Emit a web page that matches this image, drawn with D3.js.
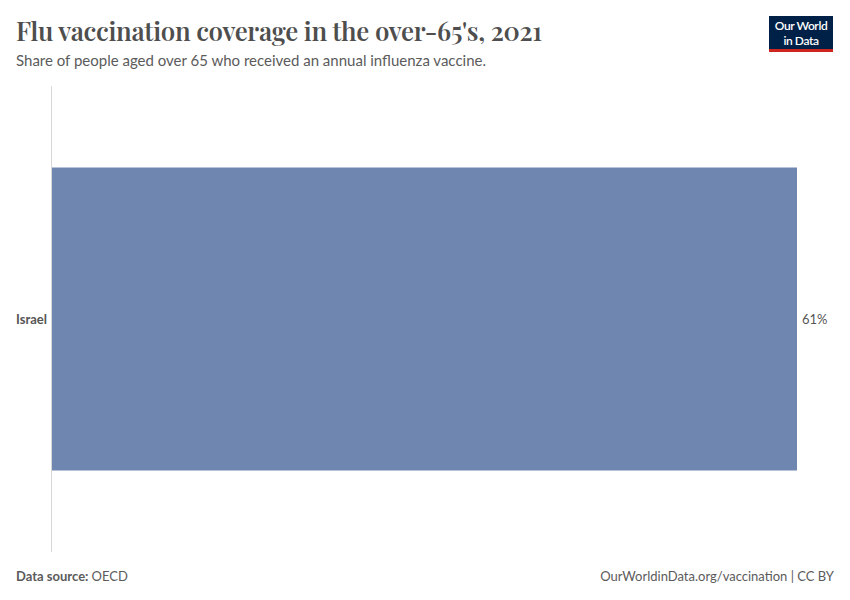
<!DOCTYPE html>
<html><head><meta charset="utf-8">
<script src="https://cdn.jsdelivr.net/npm/d3@7"></script>
<style>body{margin:0;background:#fff}</style>
</head><body>
<svg id="c" width="850" height="600"></svg>
<script>
const countries = ["Israel"];
const values = [61];
const valueLabels = ["61%"];

const svg = d3.select("#c");
svg.append("rect").attr("width",850).attr("height",600).attr("fill","#fff");

svg.append("text").attr("x",16).attr("y",41)
  .attr("font-family","'Playfair Display','Liberation Serif','DejaVu Serif',serif")
  .attr("font-size",25.8).attr("font-weight",600).attr("fill","#4e4e4e").attr("letter-spacing","-0.3")
  .text("Flu vaccination coverage in the over-65's, 2021");
svg.append("text").attr("x",16).attr("y",66)
  .attr("font-family","Lato,sans-serif").attr("font-size",15).attr("fill","#5b5b5b")
  .text("Share of people aged over 65 who received an annual influenza vaccine.");

// logo
const logo = svg.append("g");
logo.append("rect").attr("x",769).attr("y",16).attr("width",64).attr("height",36).attr("fill","#002147");
logo.append("rect").attr("x",769).attr("y",49).attr("width",64).attr("height",3).attr("fill","#ce261e");
logo.append("text").attr("x",801).attr("y",30).attr("text-anchor","middle")
  .attr("font-family","Lato,sans-serif").attr("font-size",12).attr("font-weight",600).attr("fill","#fff").attr("letter-spacing","-0.4").text("Our World");
logo.append("text").attr("x",801).attr("y",44.5).attr("text-anchor","middle")
  .attr("font-family","Lato,sans-serif").attr("font-size",12).attr("font-weight",600).attr("fill","#fff").attr("letter-spacing","-0.4").text("in Data");

const x = d3.scaleLinear().domain([0, d3.max(values)]).range([52, 797]);
const y = d3.scaleBand().domain(countries).range([86, 552]).paddingInner(0).paddingOuter(0.269);

svg.append("line").attr("x1",51.5).attr("x2",51.5).attr("y1",86).attr("y2",552)
  .attr("stroke","#d8d8d8").attr("stroke-width",1);

svg.selectAll("rect.bar").data(values).join("rect").attr("class","bar")
  .attr("x", x(0)).attr("y",(d,i)=>y(countries[i]))
  .attr("width", d=>x(d)-x(0)).attr("height", y.bandwidth())
  .attr("fill","#6f87b0");

svg.selectAll("text.cat").data(countries).join("text").attr("class","cat")
  .attr("x",47).attr("y",d=>y(d)+y.bandwidth()/2+4.5).attr("text-anchor","end")
  .attr("font-family","Lato,sans-serif").attr("font-size",13).attr("font-weight",700).attr("fill","#555")
  .text(d=>d);
svg.selectAll("text.val").data(values).join("text").attr("class","val")
  .attr("x",d=>x(d)+5).attr("y",(d,i)=>y(countries[i])+y.bandwidth()/2+4.5)
  .attr("font-family","Lato,sans-serif").attr("font-size",13).attr("fill","#555")
  .text((d,i)=>valueLabels[i]);

svg.append("text").attr("x",16).attr("y",581)
  .attr("font-family","Lato,sans-serif").attr("font-size",13).attr("fill","#5b5b5b")
  .call(t=>{t.append("tspan").attr("font-weight",700).text("Data source: ");t.append("tspan").text("OECD");});
svg.append("text").attr("x",834).attr("y",581).attr("text-anchor","end")
  .attr("font-family","Lato,sans-serif").attr("font-size",13).attr("fill","#5b5b5b")
  .text("OurWorldinData.org/vaccination | CC BY");
</script>
</body></html>
